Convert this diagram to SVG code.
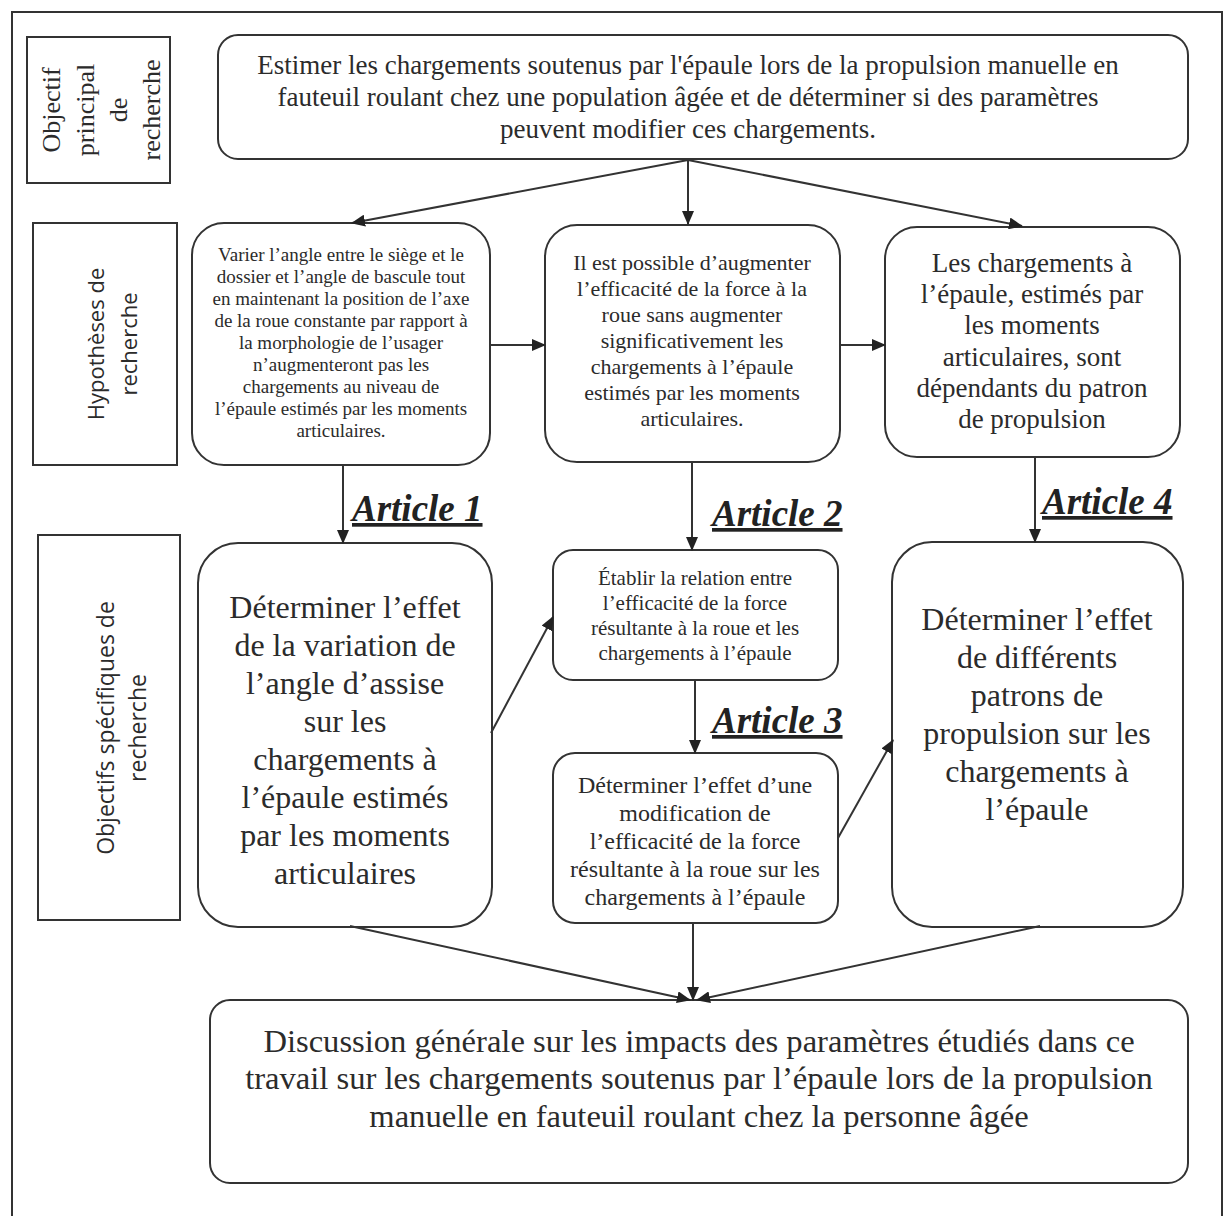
<svg xmlns="http://www.w3.org/2000/svg" width="1227" height="1216" viewBox="0 0 1227 1216">
<style>
.box{fill:#fff;stroke:#333;stroke-width:2}
.t{font-family:"Liberation Serif","Times New Roman",serif;fill:#2b2b2b;text-anchor:middle}
.s{font-family:"Open Sans","Noto Sans",sans-serif;fill:#2b2b2b;text-anchor:middle}
.art{font-family:"Liberation Serif","Times New Roman",serif;font-weight:bold;font-style:italic;font-size:37px;fill:#222;text-decoration:underline}
.c{stroke:#333;stroke-width:2;fill:none;marker-end:url(#ah)}
</style>
<defs>
<marker id="ah" markerWidth="14" markerHeight="12" refX="13" refY="6" orient="auto" markerUnits="userSpaceOnUse">
<path d="M0,0 L14,6 L0,12 Z" fill="#222"/>
</marker>
</defs>
<rect width="1227" height="1216" fill="#fff"/>
<path d="M12,1216 L12,12 L1222,12 L1222,1216" fill="none" stroke="#333" stroke-width="2"/>

<g id="lbl-principal">
<rect class="box" x="27" y="37" width="143" height="146"/>
<g transform="translate(0,110) rotate(-90)" class="t" font-size="26">
<text x="0" y="60">Objectif</text>
<text x="0" y="94">principal</text>
<text x="0" y="127">de</text>
<text x="0" y="160">recherche</text>
</g>
</g>

<g id="lbl-hypotheses">
<rect class="box" x="33" y="223" width="144" height="242"/>
<g transform="translate(0,344) rotate(-90)" class="s" font-size="22">
<text x="0" y="104">Hypothèses de</text>
<text x="0" y="137">recherche</text>
</g>
</g>

<g id="lbl-objectifs">
<rect class="box" x="38" y="535" width="142" height="385"/>
<g transform="translate(0,728) rotate(-90)" class="s" font-size="23">
<text x="0" y="114">Objectifs spécifiques de</text>
<text x="0" y="146">recherche</text>
</g>
</g>

<g id="main">
<rect class="box" x="218" y="35" width="970" height="124" rx="20"/>
<g class="t" font-size="27">
<text x="688" y="74">Estimer les chargements soutenus par l'épaule lors de la propulsion manuelle en</text>
<text x="688" y="106">fauteuil roulant chez une population âgée et de déterminer si des paramètres</text>
<text x="688" y="138">peuvent modifier ces chargements.</text>
</g>
</g>

<g id="hyp1">
<rect class="box" x="192" y="223" width="298" height="242" rx="32"/>
<g class="t" font-size="19">
<text x="341" y="261">Varier l’angle entre le siège et le</text>
<text x="341" y="283">dossier et l’angle de bascule tout</text>
<text x="341" y="305">en maintenant la position de l’axe</text>
<text x="341" y="327">de la roue constante par rapport à</text>
<text x="341" y="349">la morphologie de l’usager</text>
<text x="341" y="371">n’augmenteront pas les</text>
<text x="341" y="393">chargements au niveau de</text>
<text x="341" y="415">l’épaule estimés par les moments</text>
<text x="341" y="437">articulaires.</text>
</g>
</g>

<g id="hyp2">
<rect class="box" x="545" y="225" width="295" height="237" rx="32"/>
<g class="t" font-size="22">
<text x="692" y="270">Il est possible d’augmenter</text>
<text x="692" y="296">l’efficacité de la force à la</text>
<text x="692" y="322">roue sans augmenter</text>
<text x="692" y="348">significativement les</text>
<text x="692" y="374">chargements à l’épaule</text>
<text x="692" y="400">estimés par les moments</text>
<text x="692" y="426">articulaires.</text>
</g>
</g>

<g id="hyp3">
<rect class="box" x="885" y="227" width="295" height="230" rx="32"/>
<g class="t" font-size="27">
<text x="1032" y="272">Les chargements à</text>
<text x="1032" y="303">l’épaule, estimés par</text>
<text x="1032" y="334">les moments</text>
<text x="1032" y="366">articulaires, sont</text>
<text x="1032" y="397">dépendants du patron</text>
<text x="1032" y="428">de propulsion</text>
</g>
</g>

<g id="obj1">
<rect class="box" x="198" y="543" width="294" height="384" rx="40"/>
<g class="t" font-size="32">
<text x="345" y="618">Déterminer l’effet</text>
<text x="345" y="656">de la variation de</text>
<text x="345" y="694">l’angle d’assise</text>
<text x="345" y="732">sur les</text>
<text x="345" y="770">chargements à</text>
<text x="345" y="808">l’épaule estimés</text>
<text x="345" y="846">par les moments</text>
<text x="345" y="884">articulaires</text>
</g>
</g>

<g id="obj2">
<rect class="box" x="553" y="550" width="285" height="130" rx="20"/>
<g class="t" font-size="21">
<text x="695" y="585">Établir la relation entre</text>
<text x="695" y="610">l’efficacité de la force</text>
<text x="695" y="635">résultante à la roue et les</text>
<text x="695" y="660">chargements à l’épaule</text>
</g>
</g>

<g id="obj3">
<rect class="box" x="553" y="753" width="285" height="170" rx="22"/>
<g class="t" font-size="24">
<text x="695" y="793">Déterminer l’effet d’une</text>
<text x="695" y="821">modification de</text>
<text x="695" y="849">l’efficacité de la force</text>
<text x="695" y="877">résultante à la roue sur les</text>
<text x="695" y="905">chargements à l’épaule</text>
</g>
</g>

<g id="obj4">
<rect class="box" x="892" y="542" width="291" height="385" rx="40"/>
<g class="t" font-size="32">
<text x="1037" y="630">Déterminer l’effet</text>
<text x="1037" y="668">de différents</text>
<text x="1037" y="706">patrons de</text>
<text x="1037" y="744">propulsion sur les</text>
<text x="1037" y="782">chargements à</text>
<text x="1037" y="820">l’épaule</text>
</g>
</g>

<g id="discussion">
<rect class="box" x="210" y="1000" width="978" height="183" rx="20"/>
<g class="t" font-size="32.6">
<text x="699" y="1052">Discussion générale sur les impacts des paramètres étudiés dans ce</text>
<text x="699" y="1089">travail sur les chargements soutenus par l’épaule lors de la propulsion</text>
<text x="699" y="1127">manuelle en fauteuil roulant chez la personne âgée</text>
</g>
</g>

<g id="labels">
<text class="art" x="352" y="521">Article 1</text>
<text class="art" x="712" y="526">Article 2</text>
<text class="art" x="712" y="733">Article 3</text>
<text class="art" x="1042" y="514">Article 4</text>
</g>

<g id="connectors">
<line class="c" x1="688" y1="160" x2="352" y2="223"/>
<line class="c" x1="688" y1="160" x2="688" y2="224"/>
<line class="c" x1="688" y1="160" x2="1022" y2="226"/>
<line class="c" x1="490" y1="345" x2="545" y2="345"/>
<line class="c" x1="840" y1="345" x2="885" y2="345"/>
<line class="c" x1="343" y1="465" x2="343" y2="543"/>
<line class="c" x1="692" y1="462" x2="692" y2="550"/>
<line class="c" x1="1035" y1="457" x2="1035" y2="542"/>
<line class="c" x1="491" y1="733" x2="553" y2="617"/>
<line class="c" x1="695" y1="680" x2="695" y2="753"/>
<line class="c" x1="838" y1="838" x2="893" y2="740"/>
<line class="c" x1="350" y1="926" x2="690" y2="1000"/>
<line class="c" x1="693" y1="923" x2="693" y2="1000"/>
<line class="c" x1="1040" y1="926" x2="697" y2="1000"/>
</g>
</svg>
